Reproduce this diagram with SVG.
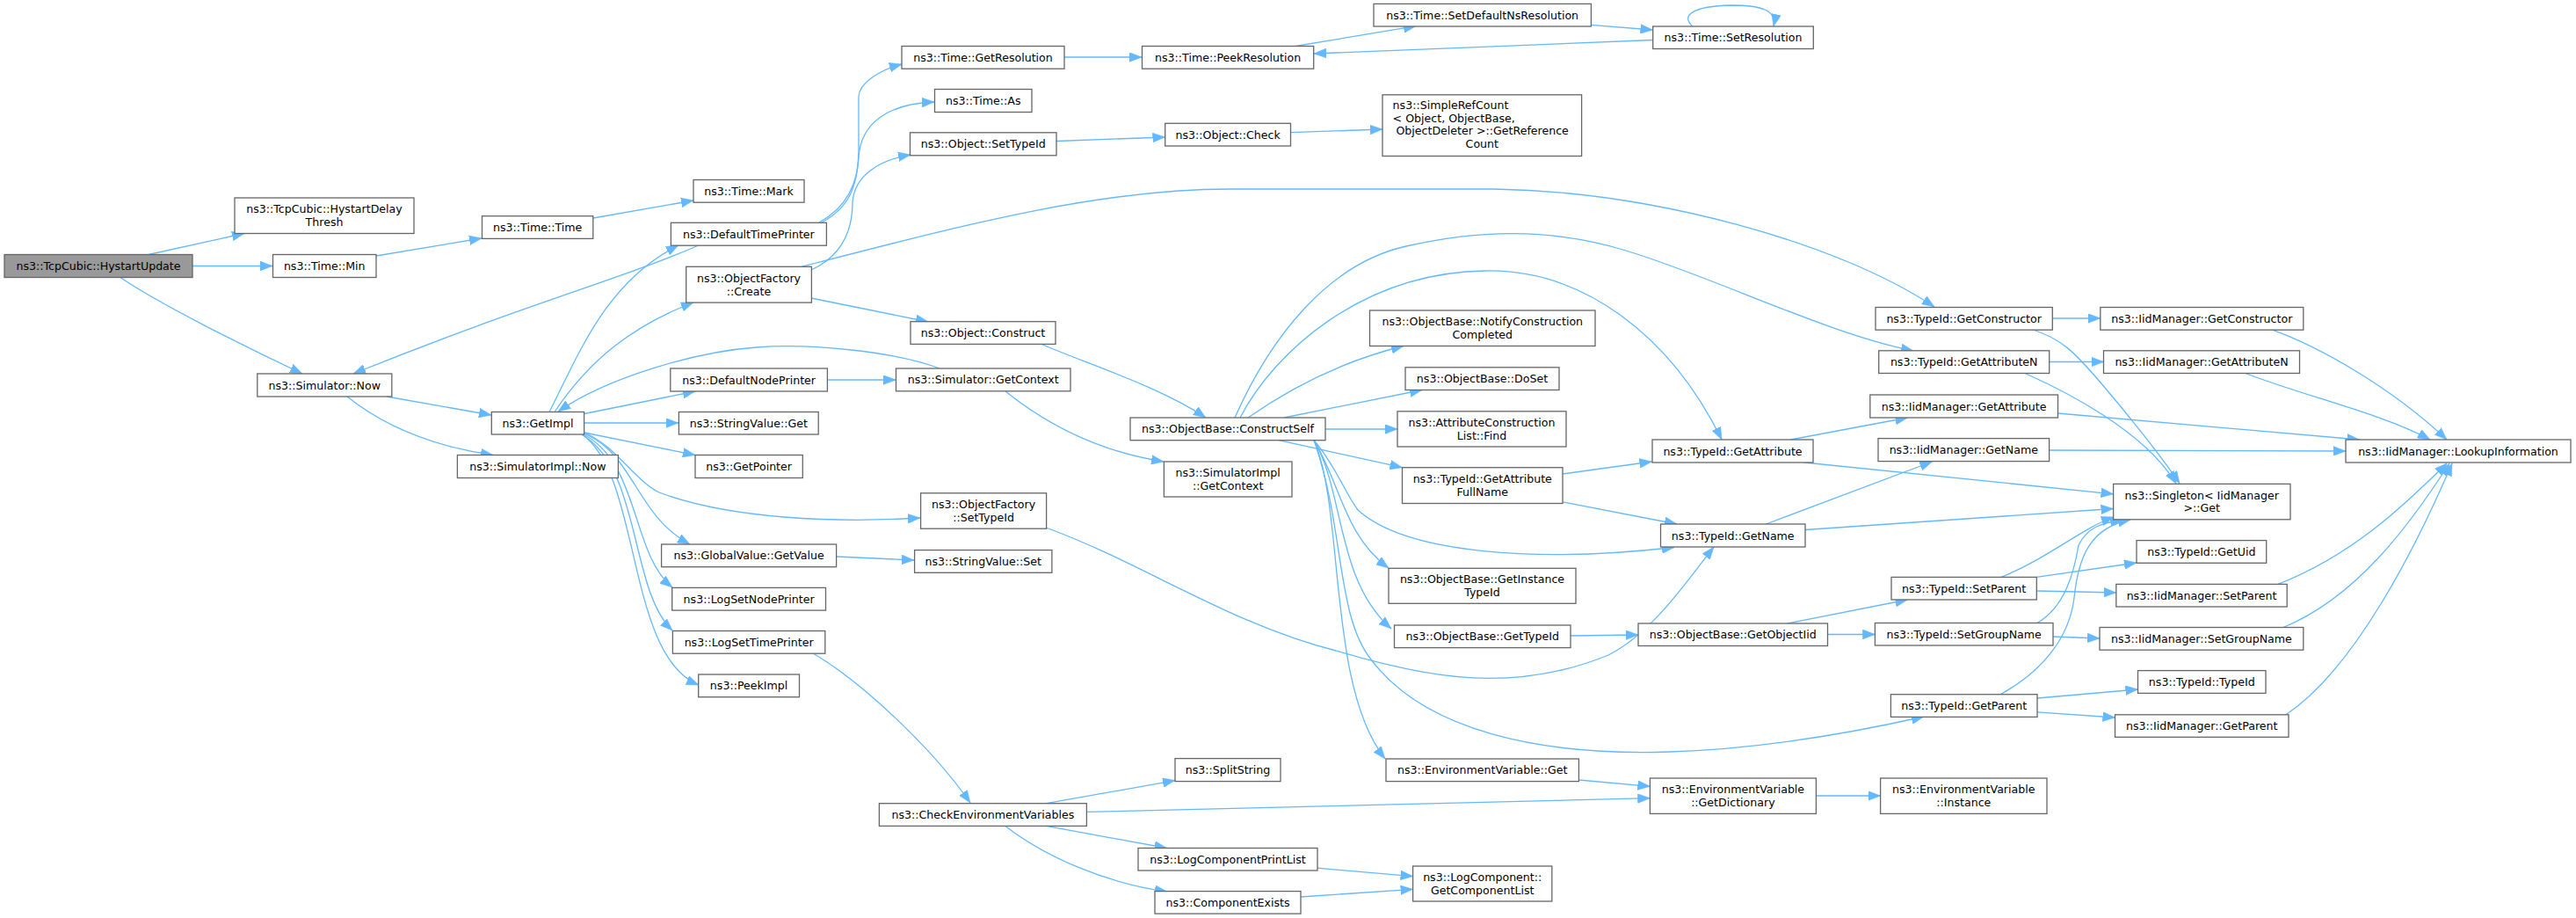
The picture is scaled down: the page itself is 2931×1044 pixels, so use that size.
<svg xmlns="http://www.w3.org/2000/svg" width="2931" height="1044" viewBox="0 0 2931 1044">
<defs>
<style>
.nd rect{fill:#ffffff;stroke:#666666;stroke-width:1.3}
.root rect{fill:#999999}
text{font-family:"DejaVu Sans","Liberation Sans",sans-serif;font-size:12.6px;fill:#000000;text-anchor:middle}
text.l{text-anchor:start}
#edges path{fill:none;stroke:#63B8FF;stroke-width:1.3;marker-end:url(#ah)}
</style>
<marker id="ah" markerUnits="userSpaceOnUse" markerWidth="14" markerHeight="11" viewBox="0 0 13 10" refX="13" refY="5" orient="auto">
<path d="M0,0 L13,5 L0,10 z" fill="#63B8FF" stroke="#63B8FF" stroke-width="0.5"/>
</marker>
</defs>
<rect x="0" y="0" width="2931" height="1044" fill="#ffffff"/>
<g id="edges">
<path d="M169,289.5 L278,265.5"/>
<path d="M219,302.5 L310,302.5"/>
<path d="M137,315.5 C180,345 280,395 344,425"/>
<path d="M428,291 L548,271"/>
<path d="M675,248 L789,228"/>
<path d="M440,451 L559,472"/>
<path d="M395,451 C425,475 475,505 561,517.5"/>
<path d="M795,279 C700,320 600,345 402,425"/>
<path d="M625,468.5 C660,400 690,320 772,279"/>
<path d="M631,468.5 C670,410 720,370 789,344"/>
<path d="M1069,419 C1020,400 920,390 861,395 C790,400 690,430 635,468"/>
<path d="M665,470.5 L791,445"/>
<path d="M665,481 L772,481"/>
<path d="M665,492 L791,517.5"/>
<path d="M662,492 C722,515 722,585 785,619"/>
<path d="M662,493 C728,525 718,630 765,668"/>
<path d="M662,494 C730,535 716,670 765,717"/>
<path d="M662,494 C730,540 712,745 795,779"/>
<path d="M662,491 C700,505 720,545 750,560 C830,590 950,595 1047,589"/>
<path d="M941,432 L1019,432"/>
<path d="M932,253 C965,235 977,205 977,173 L977,110 C977,95 1000,80 1026,73"/>
<path d="M935,253 C968,235 975,210 977,178 C980,140 1010,118 1063,116"/>
<path d="M923,307 C960,290 970,260 970,230 C972,200 1000,182 1036,176"/>
<path d="M913,303 C1100,255 1250,215 1400,215 L1700,215 C1880,218 2090,275 2201,349"/>
<path d="M923,339 L1056,366"/>
<path d="M1184,391 C1240,415 1320,440 1372,475"/>
<path d="M1144,445 C1200,490 1260,515 1324,525"/>
<path d="M1190,600 C1300,640 1400,710 1520,740 C1620,770 1720,790 1830,745 C1880,720 1920,660 1950,622"/>
<path d="M952,633 L1040,637"/>
<path d="M925,743 C980,775 1060,850 1104,913"/>
<path d="M1211,65 L1299,65"/>
<path d="M1474,52.5 L1611,29.7"/>
<path d="M1810,28.3 L1880.5,34"/>
<path d="M1880.5,45.5 L1495,61"/>
<path d="M1926,30 C1912,18 1925,7 1970,6 C2005,6 2022,12 2018,30"/>
<path d="M1202,160.5 L1325.5,156"/>
<path d="M1468.5,150.7 L1573,147"/>
<path d="M1420,475 C1470,440 1530,410 1597,393.5"/>
<path d="M1461,475 L1618,443.5"/>
<path d="M1508,488 L1590,488"/>
<path d="M1455,500.6 L1595.5,531.7"/>
<path d="M1405,475 C1445,385 1510,300 1600,280 C1680,262 1760,258 1850,285 C1950,315 2080,380 2177,399"/>
<path d="M1411,475 C1450,400 1550,310 1690,308 C1800,306 1900,380 1959,500"/>
<path d="M1495,500.6 C1520,530 1530,560 1545,580 C1600,630 1750,640 1905,622.5"/>
<path d="M1495,500.6 C1525,550 1530,610 1580,646"/>
<path d="M1495,500.6 C1530,560 1520,660 1583,715"/>
<path d="M1495,500.6 C1530,580 1510,780 1576,863"/>
<path d="M1495,500.6 C1530,600 1520,700 1560,750 C1620,830 1750,860 1900,855 C2000,852 2100,835 2189,815"/>
<path d="M1778,539 L1879.5,525"/>
<path d="M1778,570.8 L1908,596"/>
<path d="M1787,723 L1864,722"/>
<path d="M1796.4,887 L1877.4,894.3"/>
<path d="M1190.5,913.7 L1337,887.6"/>
<path d="M1236.4,923.4 L1877.4,907.7"/>
<path d="M1190.5,939.4 L1327.6,964.5"/>
<path d="M1144,939.4 C1190,975 1260,1005 1328,1014"/>
<path d="M1499,987.2 L1607.6,996.6"/>
<path d="M1480,1020 L1607.6,1011.3"/>
<path d="M2066.4,905 L2139.6,905"/>
<path d="M2335.3,362 L2389.8,362"/>
<path d="M2331.7,411.5 L2393.5,411.5"/>
<path d="M2313,375 C2345,385 2360,400 2390,435 C2420,470 2460,520 2480,550"/>
<path d="M2304,424.5 C2350,445 2440,490 2476,550"/>
<path d="M2037.4,500 L2170.5,475"/>
<path d="M2053,526 L2404.6,561.8"/>
<path d="M2009.5,596 L2198.4,525"/>
<path d="M2054,602.5 L2404.6,578.5"/>
<path d="M2585.5,375.2 C2640,395 2720,440 2784,500"/>
<path d="M2555,424.5 C2620,450 2710,470 2765,500"/>
<path d="M2341.5,470 L2684.6,500"/>
<path d="M2331.6,512 L2669,513"/>
<path d="M2592,664.4 C2680,630 2740,570 2784,527"/>
<path d="M2598,713.5 C2680,680 2740,600 2787,527"/>
<path d="M2601,812.8 C2680,760 2750,620 2790,527"/>
<path d="M2034.3,708.8 L2170.5,682"/>
<path d="M2079.5,721.5 L2133.4,721.5"/>
<path d="M2277,656.4 C2330,635 2370,600 2405,588"/>
<path d="M2317,656.4 L2431,640"/>
<path d="M2317,672 L2407.8,674"/>
<path d="M2318,708.5 C2350,690 2360,650 2365,620 C2375,600 2390,595 2415,591"/>
<path d="M2336,724 L2389,726"/>
<path d="M2276,789.7 C2330,760 2355,720 2360,680 C2365,630 2380,600 2424,591"/>
<path d="M2318,794 L2432.5,784"/>
<path d="M2318,809.8 L2406.5,816"/>
</g>
<g id="n_hystartupdate" class="nd root"><rect x="5" y="289.5" width="214" height="26"/><text x="112" y="307">ns3::TcpCubic::HystartUpdate</text></g>
<g id="n_hystartdelaythresh" class="nd"><rect x="267" y="225" width="204" height="40.5"/><text x="369" y="242.4">ns3::TcpCubic::HystartDelay</text><text x="369" y="257.1">Thresh</text></g>
<g id="n_timemin" class="nd"><rect x="310.5" y="289.5" width="117.5" height="26"/><text x="369.25" y="307">ns3::Time::Min</text></g>
<g id="n_timetime" class="nd"><rect x="548.5" y="245.7" width="126.3" height="25.7"/><text x="611.65" y="263">ns3::Time::Time</text></g>
<g id="n_timemark" class="nd"><rect x="789" y="204.5" width="126" height="25.7"/><text x="852" y="221.9">ns3::Time::Mark</text></g>
<g id="n_defaulttimeprinter" class="nd"><rect x="763.4" y="253.3" width="177" height="25.9"/><text x="851.9" y="270.8">ns3::DefaultTimePrinter</text></g>
<g id="n_objectfactorycreate" class="nd"><rect x="780.7" y="303.3" width="142.7" height="40.8"/><text x="852" y="320.85">ns3::ObjectFactory</text><text x="852" y="335.55">::Create</text></g>
<g id="n_simulatornow" class="nd"><rect x="292.8" y="425" width="153" height="26"/><text x="369.3" y="442.5">ns3::Simulator::Now</text></g>
<g id="n_defaultnodeprinter" class="nd"><rect x="762.8" y="419" width="178.6" height="26"/><text x="852.1" y="436.5">ns3::DefaultNodePrinter</text></g>
<g id="n_getimpl" class="nd"><rect x="559.3" y="468.5" width="105.3" height="25.5"/><text x="611.95" y="485.8">ns3::GetImpl</text></g>
<g id="n_stringvalueget" class="nd"><rect x="772.4" y="468.5" width="158.8" height="25.5"/><text x="851.8" y="485.8">ns3::StringValue::Get</text></g>
<g id="n_simulatorimplnow" class="nd"><rect x="520.4" y="517.5" width="183" height="26"/><text x="611.9" y="535">ns3::SimulatorImpl::Now</text></g>
<g id="n_getpointer" class="nd"><rect x="791" y="517.5" width="122.3" height="26"/><text x="852.15" y="535">ns3::GetPointer</text></g>
<g id="n_globalvaluegetvalue" class="nd"><rect x="752.6" y="619" width="199" height="25.7"/><text x="852.1" y="636.4">ns3::GlobalValue::GetValue</text></g>
<g id="n_logsetnodeprinter" class="nd"><rect x="764.7" y="668.4" width="174.8" height="25.7"/><text x="852.1" y="685.8">ns3::LogSetNodePrinter</text></g>
<g id="n_logsettimeprinter" class="nd"><rect x="765.4" y="717.5" width="173.4" height="25.7"/><text x="852.1" y="734.9">ns3::LogSetTimePrinter</text></g>
<g id="n_peekimpl" class="nd"><rect x="794.7" y="767" width="114.8" height="25.7"/><text x="852.1" y="784.4">ns3::PeekImpl</text></g>
<g id="n_timegetresolution" class="nd"><rect x="1026" y="52.5" width="185" height="25.7"/><text x="1118.5" y="69.9">ns3::Time::GetResolution</text></g>
<g id="n_timeas" class="nd"><rect x="1063.5" y="101.5" width="110.5" height="26"/><text x="1118.75" y="119">ns3::Time::As</text></g>
<g id="n_objectsettypeid" class="nd"><rect x="1035.5" y="150.8" width="166.5" height="26"/><text x="1118.75" y="168.3">ns3::Object::SetTypeId</text></g>
<g id="n_objectconstruct" class="nd"><rect x="1036" y="365.7" width="165" height="25.7"/><text x="1118.5" y="383.1">ns3::Object::Construct</text></g>
<g id="n_simulatorgetcontext" class="nd"><rect x="1019.5" y="419" width="198.5" height="25.8"/><text x="1118.75" y="436.4">ns3::Simulator::GetContext</text></g>
<g id="n_objectfactorysettypeid" class="nd"><rect x="1047.6" y="560.8" width="143" height="40.4"/><text x="1119.1" y="578.15">ns3::ObjectFactory</text><text x="1119.1" y="592.85">::SetTypeId</text></g>
<g id="n_stringvalueset" class="nd"><rect x="1040.6" y="625.6" width="156.3" height="25.7"/><text x="1118.75" y="643">ns3::StringValue::Set</text></g>
<g id="n_checkenvironmentvariables" class="nd"><rect x="1000.4" y="913.7" width="236" height="25.7"/><text x="1118.4" y="931.1">ns3::CheckEnvironmentVariables</text></g>
<g id="n_timepeekresolution" class="nd"><rect x="1299.5" y="52.5" width="195.2" height="25.7"/><text x="1397.1" y="69.9">ns3::Time::PeekResolution</text></g>
<g id="n_objectcheck" class="nd"><rect x="1325.7" y="140.3" width="142.8" height="25.7"/><text x="1397.1" y="157.7">ns3::Object::Check</text></g>
<g id="n_constructself" class="nd"><rect x="1286" y="475" width="222" height="25.7"/><text x="1397" y="492.4">ns3::ObjectBase::ConstructSelf</text></g>
<g id="n_simulatorimplgetcontext" class="nd"><rect x="1324.4" y="525" width="145.6" height="40"/><text x="1397.2" y="542.15">ns3::SimulatorImpl</text><text x="1397.2" y="556.85">::GetContext</text></g>
<g id="n_splitstring" class="nd"><rect x="1337" y="862.6" width="120" height="26"/><text x="1397" y="880.1">ns3::SplitString</text></g>
<g id="n_logcomponentprintlist" class="nd"><rect x="1295" y="964.5" width="204" height="25.5"/><text x="1397" y="981.8">ns3::LogComponentPrintList</text></g>
<g id="n_componentexists" class="nd"><rect x="1314" y="1013.6" width="166" height="25.5"/><text x="1397" y="1030.9">ns3::ComponentExists</text></g>
<g id="n_setdefaultnsresolution" class="nd"><rect x="1563" y="4.4" width="247.4" height="25.6"/><text x="1686.7" y="21.7">ns3::Time::SetDefaultNsResolution</text></g>
<g id="n_simplerefcount" class="nd"><rect x="1573" y="107.8" width="226.6" height="69.7"/><text class="l" x="1584.6" y="123.8">ns3::SimpleRefCount</text><text class="l" x="1584.6" y="139">&lt; Object, ObjectBase,</text><text class="l" x="1588.4" y="153.2">ObjectDeleter &gt;::GetReference</text><text x="1686.3" y="168.1">Count</text></g>
<g id="n_notifyconstructioncompleted" class="nd"><rect x="1558.5" y="353" width="256.5" height="40.5"/><text x="1686.75" y="370.4">ns3::ObjectBase::NotifyConstruction</text><text x="1686.75" y="385.1">Completed</text></g>
<g id="n_doset" class="nd"><rect x="1599" y="417.8" width="175" height="25.7"/><text x="1686.5" y="435.2">ns3::ObjectBase::DoSet</text></g>
<g id="n_attributeconstructionlistfind" class="nd"><rect x="1590" y="467.8" width="192" height="40.2"/><text x="1686" y="485.05">ns3::AttributeConstruction</text><text x="1686" y="499.75">List::Find</text></g>
<g id="n_getattributefullname" class="nd"><rect x="1595.5" y="531.7" width="182.5" height="40.8"/><text x="1686.75" y="549.25">ns3::TypeId::GetAttribute</text><text x="1686.75" y="563.95">FullName</text></g>
<g id="n_getinstancetypeid" class="nd"><rect x="1580" y="646.3" width="213" height="40"/><text x="1686.5" y="663.45">ns3::ObjectBase::GetInstance</text><text x="1686.5" y="678.15">TypeId</text></g>
<g id="n_objectbasegettypeid" class="nd"><rect x="1586.5" y="711" width="200.5" height="25.6"/><text x="1686.75" y="728.3">ns3::ObjectBase::GetTypeId</text></g>
<g id="n_environmentvariableget" class="nd"><rect x="1577" y="863" width="219.4" height="25.6"/><text x="1686.7" y="880.3">ns3::EnvironmentVariable::Get</text></g>
<g id="n_getcomponentlist" class="nd"><rect x="1607.6" y="985" width="158.2" height="40"/><text x="1686.7" y="1002.15">ns3::LogComponent::</text><text x="1686.7" y="1016.85">GetComponentList</text></g>
<g id="n_setresolution" class="nd"><rect x="1880.7" y="30" width="182.6" height="25.5"/><text x="1972" y="47.3">ns3::Time::SetResolution</text></g>
<g id="n_typeidgetattribute" class="nd"><rect x="1880" y="500" width="183" height="26"/><text x="1971.5" y="517.5">ns3::TypeId::GetAttribute</text></g>
<g id="n_typeidgetname" class="nd"><rect x="1889.5" y="596" width="164.5" height="26"/><text x="1971.75" y="613.5">ns3::TypeId::GetName</text></g>
<g id="n_getobjectiid" class="nd"><rect x="1864" y="709" width="215.5" height="25.5"/><text x="1971.75" y="726.3">ns3::ObjectBase::GetObjectIid</text></g>
<g id="n_getdictionary" class="nd"><rect x="1877.4" y="885" width="189" height="40.4"/><text x="1971.9" y="902.35">ns3::EnvironmentVariable</text><text x="1971.9" y="917.05">::GetDictionary</text></g>
<g id="n_typeidgetconstructor" class="nd"><rect x="2134" y="349.5" width="201.3" height="25.7"/><text x="2234.65" y="366.9">ns3::TypeId::GetConstructor</text></g>
<g id="n_typeidgetattributen" class="nd"><rect x="2137.7" y="398.8" width="194" height="25.7"/><text x="2234.7" y="416.2">ns3::TypeId::GetAttributeN</text></g>
<g id="n_iidgetattribute" class="nd"><rect x="2127.8" y="449" width="213.7" height="26"/><text x="2234.65" y="466.5">ns3::IidManager::GetAttribute</text></g>
<g id="n_iidgetname" class="nd"><rect x="2137" y="498.6" width="194.6" height="26"/><text x="2234.3" y="516.1">ns3::IidManager::GetName</text></g>
<g id="n_typeidsetparent" class="nd"><rect x="2152" y="656.4" width="165.3" height="25.6"/><text x="2234.65" y="673.7">ns3::TypeId::SetParent</text></g>
<g id="n_typeidsetgroupname" class="nd"><rect x="2133.4" y="708.5" width="202.6" height="25.5"/><text x="2234.7" y="725.8">ns3::TypeId::SetGroupName</text></g>
<g id="n_typeidgetparent" class="nd"><rect x="2151.4" y="789.7" width="166.6" height="25.7"/><text x="2234.7" y="807.1">ns3::TypeId::GetParent</text></g>
<g id="n_environmentvariableinstance" class="nd"><rect x="2139.6" y="885" width="189.4" height="40.4"/><text x="2234.3" y="902.35">ns3::EnvironmentVariable</text><text x="2234.3" y="917.05">::Instance</text></g>
<g id="n_iidgetconstructor" class="nd"><rect x="2389.8" y="349.5" width="231" height="25.7"/><text x="2505.3" y="366.9">ns3::IidManager::GetConstructor</text></g>
<g id="n_iidgetattributen" class="nd"><rect x="2393.5" y="398.8" width="223" height="25.7"/><text x="2505" y="416.2">ns3::IidManager::GetAttributeN</text></g>
<g id="n_singletonget" class="nd"><rect x="2404.6" y="550.4" width="201.4" height="40.4"/><text x="2505.3" y="567.75">ns3::Singleton&lt; IidManager</text><text x="2505.3" y="582.45">&gt;::Get</text></g>
<g id="n_typeidgetuid" class="nd"><rect x="2431" y="614.6" width="147.7" height="25.7"/><text x="2504.85" y="632">ns3::TypeId::GetUid</text></g>
<g id="n_iidsetparent" class="nd"><rect x="2407.8" y="664.4" width="194.4" height="25.6"/><text x="2505" y="681.7">ns3::IidManager::SetParent</text></g>
<g id="n_iidsetgroupname" class="nd"><rect x="2389" y="713.5" width="231.8" height="25.7"/><text x="2504.9" y="730.9">ns3::IidManager::SetGroupName</text></g>
<g id="n_typeidtypeid" class="nd"><rect x="2432.5" y="762.6" width="145.5" height="25.8"/><text x="2505.25" y="780">ns3::TypeId::TypeId</text></g>
<g id="n_iidgetparent" class="nd"><rect x="2406.5" y="812.8" width="197.5" height="25.5"/><text x="2505.25" y="830.1">ns3::IidManager::GetParent</text></g>
<g id="n_lookupinformation" class="nd"><rect x="2669" y="500" width="256" height="26"/><text x="2797" y="517.5">ns3::IidManager::LookupInformation</text></g>
</svg>
